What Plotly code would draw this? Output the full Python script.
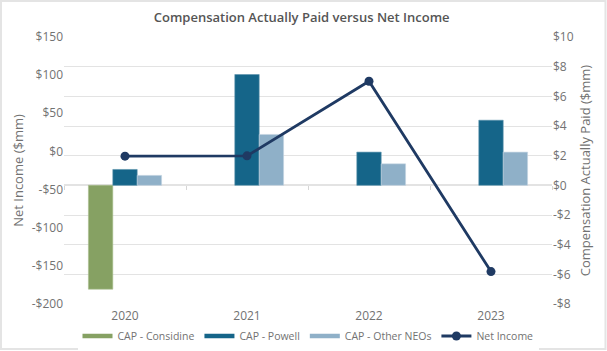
import plotly.graph_objects as go

years = ["2020", "2021", "2022", "2023"]
cap_considine = [-7.0, None, None, None]
cap_powell = [1.07, 7.47, 2.24, 4.39]
cap_other = [0.67, 3.43, 1.45, 2.24]
net_income = [-6.2, -5.8, 92.0, -157.5]

left_vals = [150, 100, 50, 0, -50, -100, -150, -200]
left_text = ["$150", "$100", "$50", "$0", "-$50", "-$100", "-$150", "-$200"]
right_vals = [10, 8, 6, 4, 2, 0, -2, -4, -6, -8]
right_text = ["$10", "$8", "$6", "$4", "$2", "$0", "-$2", "-$4", "-$6", "-$8"]

FONT = "Open Sans"
GRAY = "#727272"
GRID = "#e3e3e3"
C_CONS, C_POW, C_OTH, C_NI = "#86A163", "#156589", "#8FB0C8", "#1F3A63"

fig = go.Figure()
bars = [("CAP - Considine", cap_considine, C_CONS, "#a9bf8f"),
        ("CAP - Powell", cap_powell, C_POW, "#5d93ad"),
        ("CAP - Other NEOs", cap_other, C_OTH, "#c3d4e1")]
for name, vals, col, edge in bars:
    fig.add_trace(go.Bar(x=years, y=vals, name=name, showlegend=False,
                         marker=dict(color=col, line=dict(color=edge, width=0.6)), yaxis="y"))
fig.add_trace(go.Scatter(x=years, y=net_income, name="Net Income", mode="lines+markers",
                         line=dict(color=C_NI, width=2.8), showlegend=False,
                         marker=dict(size=9, color=C_NI), yaxis="y2"))
# legend entries (thin bar-like symbols)
for name, vals, col, edge in bars:
    fig.add_trace(go.Scatter(x=[None], y=[None], name=name, mode="lines",
                             line=dict(color=col, width=4.5), yaxis="y"))
fig.add_trace(go.Scatter(x=[None], y=[None], name="Net Income", mode="lines+markers",
                         line=dict(color=C_NI, width=3), marker=dict(size=9, color=C_NI),
                         yaxis="y2"))
# invisible helper trace for boundary ticks on the zero line
fig.add_trace(go.Scatter(x=years, y=[None]*4, xaxis="x2", yaxis="y", showlegend=False,
                         hoverinfo="skip"))

W, H = 607, 351
L, R, T, B = 64, 55, 37, 47
pw, ph = W - L - R, H - T - B
zero_pos = 1 - 10 / 18.0

fig.update_layout(
    width=W, height=H,
    margin=dict(l=L, r=R, t=T, b=B, autoexpand=False),
    paper_bgcolor="white", plot_bgcolor="white",
    font=dict(family=FONT, color=GRAY, size=12),
    title=dict(text="Compensation Actually Paid versus Net Income",
               x=0.497, xanchor="center", y=1 - 17 / H, yanchor="middle",
               font=dict(family=FONT, size=13, color="#555555", weight=600)),
    barmode="group", bargap=0.4, bargroupgap=0,
    xaxis=dict(type="category", showgrid=False, showline=False, zeroline=False,
               ticks="", tickfont=dict(size=12, color=GRAY), ticklabelstandoff=3),
    xaxis2=dict(type="category", overlaying="x", matches="x", anchor="free",
                position=zero_pos, showticklabels=False, showgrid=False, showline=False,
                ticks="outside", ticklen=4, tickcolor="#d6d6d6", tickson="boundaries"),
    yaxis=dict(side="right", range=[-8, 10], tickvals=right_vals, ticktext=right_text,
               showgrid=True, gridcolor=GRID, gridwidth=1,
               zeroline=True, zerolinecolor=GRID, zerolinewidth=1.5,
               tickfont=dict(size=12, color=GRAY),
               title=dict(text="Compensation Actually Paid ($mm)", standoff=8,
                          font=dict(size=13, color=GRAY))),
    yaxis2=dict(side="left", overlaying="y", range=[-200, 150], tickvals=left_vals,
                ticktext=left_text, showgrid=False, zeroline=False,
                tickfont=dict(size=12, color=GRAY),
                title=dict(text="Net Income ($mm)", standoff=5,
                           font=dict(size=13, color=GRAY))),
    legend=dict(orientation="h", x=0.5, xanchor="center", y=-(336 - (T + ph)) / ph,
                yanchor="middle", font=dict(size=10.5, color=GRAY),
                itemwidth=30, traceorder="normal"),
    shapes=[dict(type="rect", xref="paper", yref="paper",
                 x0=(1 - L) / pw, x1=(605.5 - L) / pw,
                 y0=(T + ph - 349) / ph, y1=(T + ph - 1) / ph,
                 line=dict(color="#e4e4e4", width=2), fillcolor="rgba(0,0,0,0)",
                 layer="below")],
)

fig.write_html("out.html")
